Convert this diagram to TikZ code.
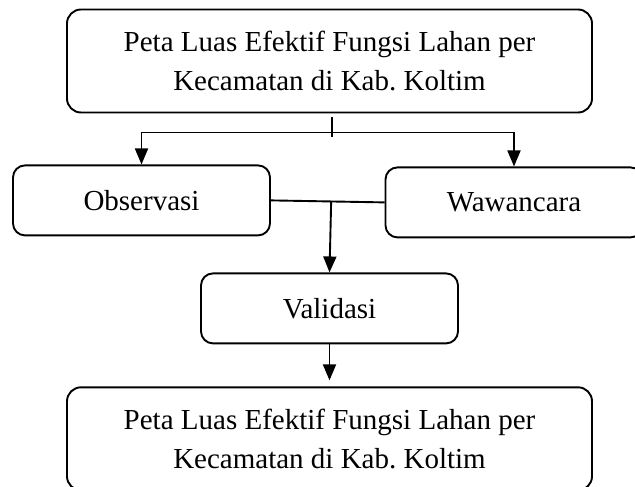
\documentclass[tikz,border=0pt]{standalone}
\usepackage{fontspec}
\setmainfont{Liberation Serif}
\usetikzlibrary{arrows.meta, positioning, calc}
\tikzset{
  alur/big/.style={rectangle, rounded corners=14pt, draw=black, fill=white,
    minimum width=525pt, minimum height=103pt,
    font=\fontsize{29}{39}\selectfont, align=center, line width=1.9pt},
  alur/small/.style={rectangle, rounded corners=12pt, draw=black, fill=white,
    minimum width=257pt, minimum height=70pt,
    font=\fontsize{29}{35}\selectfont, align=center, line width=1.9pt},
  alur/line/.style={line width=1.9pt, draw=black},
  alur/arr/.style={-{Triangle[length=16pt,width=13pt]}, line width=1.9pt,
    draw=black}
}
\begin{document}
\frenchspacing
\begin{tikzpicture}
  \useasboundingbox (0,0) rectangle (635pt,-487pt);
  \node[alur/big] (peta) at (329.5pt,-61pt) {Peta Luas Efektif Fungsi Lahan per\\
        Kecamatan di Kab. Koltim};
  \node[alur/small, below=51pt of peta, xshift=-188pt] (obs) {Observasi};
  \node[alur/small, below=53pt of peta, xshift=184.5pt] (waw) {Wawancara};
  \node[alur/small, below=159pt of peta] (valid) {Validasi};
  \node[alur/big, below=42pt of valid] (hasil) {Peta Luas Efektif Fungsi Lahan per\\
        Kecamatan di Kab. Koltim};

  \coordinate (split) at ([yshift=-19pt]peta.south);
  \draw[alur/line] ([xshift=2.5pt,yshift=-4pt]peta.south) -- ([xshift=2.5pt,yshift=-5pt]split);
  \draw[alur/arr] (split) -| (obs.north);
  \draw[alur/arr] (split) -| (waw.north);
  \draw[alur/line] (obs.east) -- (waw.west);
  \draw[alur/arr] ($(obs.east)!0.53!(waw.west)$) -- (valid.north);
  \draw[alur/arr, shorten >=6pt] (valid.south) -- (hasil.north);
\end{tikzpicture}
\end{document}
